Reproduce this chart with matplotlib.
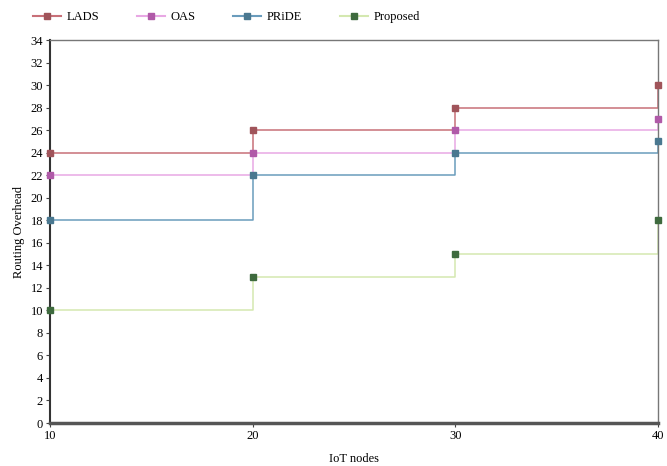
import matplotlib
matplotlib.use("Agg")
import matplotlib.pyplot as plt

nodes = [10, 20, 30, 40]
lads = [24, 26, 28, 30]
oas = [22, 24, 26, 27]
pride = [18, 22, 24, 25]
proposed = [10, 13, 15, 18]
series_names = ["LADS", "OAS", "PRiDE", "Proposed"]
yticks = list(range(0, 35, 2))

plt.rcParams['font.family'] = ['Liberation Serif', 'DejaVu Serif']

fig = plt.figure(figsize=(6.67, 4.66), dpi=100)
ax = fig.add_axes([50/667, 1 - 423/466, 608/667, 383/466])

styles = [
    dict(line="#c87078", marker="#a0545a"),
    dict(line="#e8a8e4", marker="#b05aa8"),
    dict(line="#6a9cbc", marker="#4a7890"),
    dict(line="#d4e8b0", marker="#3e6a3e"),
]
handles = []
for vals, name, st in zip([lads, oas, pride, proposed], series_names, styles):
    ax.plot(nodes, vals, drawstyle="steps-post", color=st["line"], lw=1.1, zorder=2)
    ax.plot(nodes, vals, ls="none", marker="s", ms=5, mfc=st["marker"],
            mec=st["marker"], zorder=3, clip_on=False)
    h, = ax.plot([], [], color=st["line"], lw=1.5, marker="s", ms=4,
                 mfc=st["marker"], mec=st["marker"], label=name)
    handles.append(h)

ax.set_xlim(10, 40)
ax.set_ylim(0, 34)
ax.set_yticks(yticks)
ax.set_xticks(nodes)
ax.tick_params(axis="both", labelsize=9, length=3, color="#444444", pad=2)
for s in ["top", "right"]:
    ax.spines[s].set_color("#777777")
    ax.spines[s].set_linewidth(1.0)
ax.spines["left"].set_color("#333333")
ax.spines["left"].set_linewidth(1.5)
ax.spines["bottom"].set_color("#555555")
ax.spines["bottom"].set_linewidth(2.5)
ax.set_xlabel("IoT nodes", fontsize=9, labelpad=8)
ax.set_ylabel("Routing Overhead", fontsize=9, labelpad=4)

fig.legend(handles=handles, loc="upper left", bbox_to_anchor=(22/667, 1.0),
           ncol=4, frameon=False, fontsize=9, handlelength=2.2,
           columnspacing=3.0, handletextpad=0.5)

fig.savefig("out.png", dpi=100)
